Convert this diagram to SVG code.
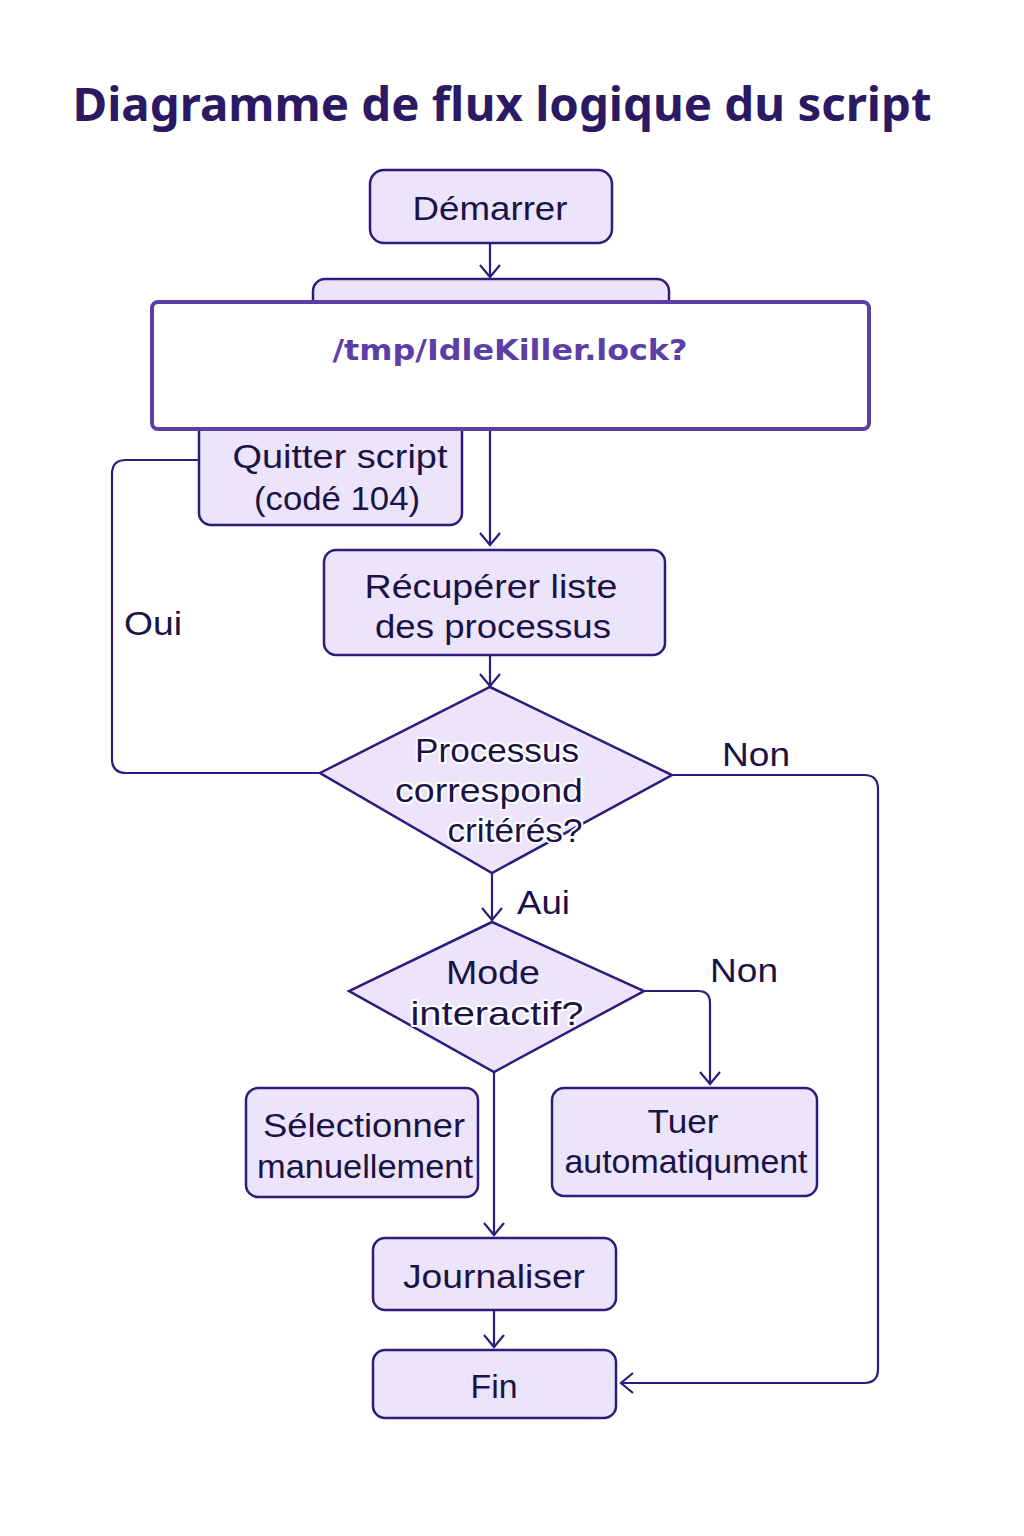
<svg xmlns="http://www.w3.org/2000/svg" width="1024" height="1536" viewBox="0 0 1024 1536">
<style>
.node{fill:#ece4fb;stroke:#2e1c7c;stroke-width:2.5}
.t{font-family:"Liberation Sans",Arial,sans-serif;font-size:34px;fill:#1b1246;text-anchor:middle}
.halo{paint-order:stroke;stroke:#ffffff;stroke-width:4;stroke-linejoin:round}
.lbl{font-family:"Liberation Sans",Arial,sans-serif;font-size:34px;fill:#1b1246}
.c{fill:none;stroke:#2e1c7c;stroke-width:2.2;stroke-linejoin:round}
</style>
<defs>
<marker id="arr" markerUnits="userSpaceOnUse" markerWidth="24" markerHeight="24" refX="13" refY="11" orient="auto" viewBox="0 0 24 24">
<path d="M1,1 L13,11 L1,21" fill="none" stroke="#2e1c7c" stroke-width="2.2"/>
</marker>
</defs>
<rect width="1024" height="1536" fill="#ffffff"/>
<text x="502" y="121" font-family="'Noto Sans','DejaVu Sans',sans-serif" font-size="46" font-weight="bold" fill="#2b1a63" text-anchor="middle" textLength="859" lengthAdjust="spacingAndGlyphs">Diagramme de flux logique du script</text>

<g id="connectors">
<path class="c" d="M490,243 V277" marker-end="url(#arr)"/>
<path class="c" d="M490,429 V545" marker-end="url(#arr)"/>
<path class="c" d="M490,655 V686" marker-end="url(#arr)"/>
<path class="c" d="M199,460 H126 Q112,460 112,474 V759 Q112,773 126,773 H320"/>
<path class="c" d="M672,775 H864 Q878,775 878,789 V1369 Q878,1383 864,1383 H621" marker-end="url(#arr)"/>
<path class="c" d="M492,873 V920" marker-end="url(#arr)"/>
<path class="c" d="M644,991 H698 Q710,991 710,1003 V1084" marker-end="url(#arr)"/>
<path class="c" d="M494,1072 V1235" marker-end="url(#arr)"/>
<path class="c" d="M494,1310 V1347" marker-end="url(#arr)"/>
</g>

<g id="start">
<rect class="node" x="370" y="170" width="242" height="73" rx="14"/>
<text class="t" x="490" y="220" textLength="155" lengthAdjust="spacingAndGlyphs">Démarrer</text>
</g>

<g id="hidden-node">
<rect class="node" x="313" y="279" width="356" height="60" rx="12"/>
</g>

<g id="quit">
<rect class="node" x="199" y="405" width="263" height="120" rx="12"/>
<text class="t" x="340" y="468" textLength="215" lengthAdjust="spacingAndGlyphs">Quitter script</text>
<text class="t" x="337" y="510" textLength="166" lengthAdjust="spacingAndGlyphs">(codé 104)</text>
</g>

<g id="lock">
<rect x="152" y="302" width="717" height="127" rx="6" fill="#ffffff" stroke="#5b3fa6" stroke-width="4"/>
<text x="510" y="360" font-family="'DejaVu Sans','Noto Sans',sans-serif" font-size="29" font-weight="bold" fill="#5b3fa6" text-anchor="middle" textLength="355" lengthAdjust="spacingAndGlyphs">/tmp/IdleKiller.lock?</text>
</g>

<g id="getlist">
<rect class="node" x="324" y="550" width="341" height="105" rx="12"/>
<text class="t" x="491" y="598" textLength="253" lengthAdjust="spacingAndGlyphs">Récupérer liste</text>
<text class="t" x="493" y="638" textLength="236" lengthAdjust="spacingAndGlyphs">des processus</text>
</g>

<g id="match">
<polygon class="node" points="490,687 672,775 492,873 320,773"/>
<text class="t halo" x="497" y="762" textLength="164" lengthAdjust="spacingAndGlyphs">Processus</text>
<text class="t halo" x="489" y="802" textLength="188" lengthAdjust="spacingAndGlyphs">correspond</text>
<text class="t halo" x="515" y="842" textLength="135" lengthAdjust="spacingAndGlyphs">critérés?</text>
</g>

<g id="interactive">
<polygon class="node" points="492,922 644,991 494,1072 349,991"/>
<text class="t" x="493" y="984" textLength="94" lengthAdjust="spacingAndGlyphs">Mode</text>
<text class="t halo" x="497" y="1025" textLength="173" lengthAdjust="spacingAndGlyphs">interactif?</text>
</g>

<g id="manual">
<rect class="node" x="246" y="1088" width="232" height="109" rx="12"/>
<text class="t" x="364" y="1137" textLength="202" lengthAdjust="spacingAndGlyphs">Sélectionner</text>
<text class="t" x="365" y="1178" textLength="216" lengthAdjust="spacingAndGlyphs">manuellement</text>
</g>

<g id="auto">
<rect class="node" x="552" y="1088" width="265" height="108" rx="12"/>
<text class="t" x="683" y="1133" textLength="71" lengthAdjust="spacingAndGlyphs">Tuer</text>
<text class="t" x="686" y="1173" font-size="32" textLength="243" lengthAdjust="spacingAndGlyphs">automatiqument</text>
</g>

<g id="log">
<rect class="node" x="373" y="1238" width="243" height="72" rx="12"/>
<text class="t" x="494" y="1288" textLength="182" lengthAdjust="spacingAndGlyphs">Journaliser</text>
</g>

<g id="end">
<rect class="node" x="373" y="1350" width="243" height="68" rx="12"/>
<text class="t" x="494" y="1398" textLength="47" lengthAdjust="spacingAndGlyphs">Fin</text>
</g>

<g id="labels">
<text class="lbl" x="124" y="635" textLength="58" lengthAdjust="spacingAndGlyphs">Oui</text>
<text class="lbl" x="722" y="766" textLength="68" lengthAdjust="spacingAndGlyphs">Non</text>
<text class="lbl" x="517" y="914" textLength="53" lengthAdjust="spacingAndGlyphs">Aui</text>
<text class="lbl" x="710" y="982" textLength="68" lengthAdjust="spacingAndGlyphs">Non</text>
</g>
</svg>
